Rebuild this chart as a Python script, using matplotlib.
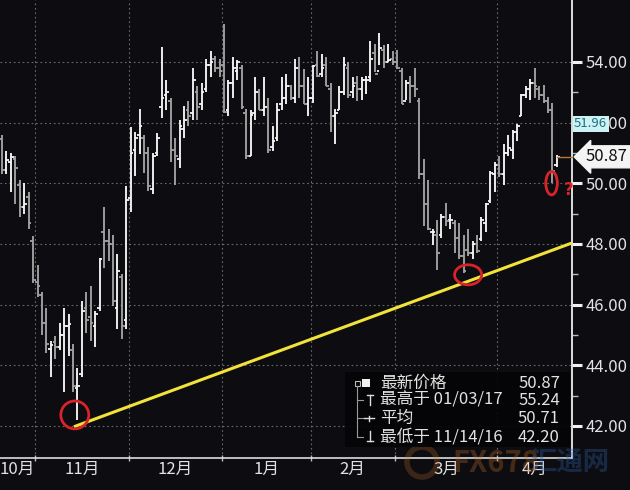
import matplotlib
matplotlib.use("Agg")
import matplotlib.pyplot as plt
from matplotlib.patches import Ellipse, Rectangle
import numpy as np

plt.rcParams['font.family'] = ['Noto Sans CJK SC', 'DejaVu Sans']

BG = "#0d0d11"
TXT = "#e2e2e2"

# daily OHLC bars, oldest first
months = ["10月", "11月", "12月", "1月", "2月", "3月", "4月"]
month_start = [0, 8, 29, 50, 70, 89, 112]  # index of the first bar of each month

highs = [51.60, 51.05, 51.00, 50.90, 50.10, 50.00, 49.70, 48.25, 47.30, 46.40,
         45.90, 44.80, 44.95, 45.40, 45.90, 45.70, 44.70, 43.90, 46.10, 46.40,
         46.60, 45.80, 47.55, 49.20, 48.50, 48.30, 47.65, 47.00, 49.90, 51.85,
         51.70, 52.45, 51.60, 51.20, 51.00, 51.65, 54.50, 53.40, 52.80, 51.50,
         52.10, 52.55, 52.70, 53.80, 53.20, 53.30, 54.10, 54.35, 54.20, 54.10,
         55.24, 53.40, 54.15, 54.05, 53.90, 52.45, 52.40, 53.50, 53.10, 53.50,
         52.80, 51.90, 52.65, 53.50, 53.60, 53.25, 54.10, 54.15, 53.75, 53.50,
         53.90, 54.35, 54.25, 54.15, 53.30, 52.45, 53.20, 54.15, 54.00, 53.50,
         53.55, 53.50, 53.55, 54.70, 54.60, 54.95, 54.55, 54.60, 54.35, 54.40,
         53.80, 53.40, 53.55, 53.80, 52.80, 50.80, 50.10, 48.50, 48.80, 49.00,
         49.35, 49.00, 48.80, 48.70, 48.30, 48.50, 48.10, 48.30, 48.90, 49.35,
         50.40, 50.70, 50.90, 51.30, 51.60, 51.75, 51.95, 52.95, 53.20, 53.45,
         53.80, 53.20, 53.25, 52.85, 52.65, 50.93]
lows = [50.30, 50.30, 49.70, 49.30, 48.90, 49.00, 48.50, 46.70, 46.25, 45.00,
        44.40, 43.60, 44.20, 44.50, 43.10, 44.30, 43.10, 42.20, 43.60, 45.05,
        44.80, 44.60, 45.80, 47.20, 47.45, 45.95, 45.20, 44.85, 45.20, 49.05,
        50.25, 50.95, 50.35, 49.75, 49.65, 50.90, 52.15, 52.40, 50.70, 49.95,
        50.50, 51.50, 51.90, 52.10, 52.10, 52.40, 53.00, 53.50, 53.65, 53.50,
        52.30, 52.20, 52.80, 53.40, 52.45, 50.80, 50.90, 52.10, 52.40, 52.20,
        51.00, 51.05, 51.40, 52.40, 52.60, 52.75, 52.65, 52.80, 52.60, 52.20,
        52.65, 53.50, 53.50, 53.20, 51.70, 51.30, 52.40, 52.90, 52.80, 52.80,
        52.70, 52.75, 52.95, 53.35, 53.65, 53.90, 53.80, 54.00, 53.90, 53.75,
        52.60, 52.75, 52.65, 52.85, 50.15, 48.60, 48.45, 47.95, 47.15, 48.20,
        48.60, 48.50, 47.70, 47.50, 47.03, 47.60, 47.50, 47.70, 48.10, 48.40,
        49.35, 49.70, 50.20, 49.95, 50.90, 50.80, 51.40, 52.20, 52.80, 52.75,
        52.80, 52.75, 52.65, 52.30, 50.00, 50.55]
opens = [51.45, 50.45, 50.70, 50.80, 49.95, 49.20, 49.55, 48.10, 46.75, 46.30,
         45.40, 44.55, 44.75, 44.60, 45.00, 45.30, 44.50, 43.25, 43.70, 45.90,
         45.60, 45.30, 45.90, 48.40, 48.10, 48.00, 45.90, 46.90, 45.50, 49.50,
         51.10, 51.60, 51.50, 51.00, 49.80, 51.00, 52.50, 52.90, 52.70, 51.10,
         50.80, 51.80, 52.40, 52.30, 53.00, 52.60, 53.10, 53.90, 54.10, 53.80,
         53.90, 52.40, 53.30, 53.70, 53.80, 52.30, 50.90, 52.30, 53.00, 52.40,
         52.50, 51.20, 51.50, 52.60, 52.80, 53.20, 52.80, 53.80, 53.20, 52.60,
         52.80, 53.90, 53.60, 53.90, 53.10, 52.20, 52.40, 53.00, 53.80, 53.00,
         53.30, 53.10, 53.40, 53.50, 54.30, 53.70, 54.40, 54.00, 54.10, 54.00,
         53.70, 52.70, 53.30, 53.20, 52.70, 50.30, 49.30, 48.40, 48.30, 48.30,
         48.90, 48.80, 48.70, 48.20, 47.60, 47.80, 47.70, 48.00, 48.15, 48.70,
         49.40, 50.30, 50.60, 50.30, 51.00, 51.10, 51.70, 52.20, 52.90, 53.10,
         53.30, 53.10, 52.90, 52.70, 52.40, 50.60]
closes = [50.45, 50.75, 50.85, 50.50, 49.20, 49.30, 48.70, 46.80, 46.60, 45.40,
          44.70, 44.65, 44.60, 45.00, 45.30, 45.35, 43.30, 43.30, 45.80, 45.50,
          45.40, 45.70, 47.50, 48.10, 48.00, 46.10, 47.10, 45.30, 49.45, 51.00,
          51.50, 51.90, 51.00, 49.90, 50.90, 51.50, 52.80, 53.00, 51.10, 50.90,
          51.90, 52.10, 52.20, 53.40, 52.50, 53.00, 53.90, 54.00, 53.80, 53.70,
          52.35, 53.30, 53.80, 54.00, 52.50, 50.90, 52.25, 53.00, 52.40, 52.50,
          51.10, 51.40, 52.40, 52.80, 53.20, 52.80, 53.80, 53.20, 52.60, 52.80,
          53.85, 53.55, 53.80, 53.20, 52.20, 52.30, 53.00, 53.90, 52.90, 53.20,
          53.10, 53.40, 53.40, 54.10, 53.60, 54.45, 54.00, 54.05, 54.00, 53.80,
          52.60, 53.30, 53.20, 53.10, 50.30, 49.30, 48.50, 48.40, 47.70, 48.90,
          48.75, 48.80, 48.20, 47.60, 47.10, 47.70, 48.00, 47.75, 48.80, 49.30,
          50.35, 50.60, 50.30, 51.00, 51.15, 51.70, 51.90, 52.90, 53.10, 53.30,
          53.20, 52.90, 52.70, 52.40, 50.40, 50.87]

y_ticks = [42, 44, 46, 48, 50, 52, 54]
last_price = 50.87
ma_value = 51.96

legend_names = ["最新价格", "最高于 01/03/17", "平均", "最低于 11/14/16"]
legend_values = ["50.87", "55.24", "50.71", "42.20"]

# hand drawn annotations (bar index, price)
trend_x = [16.2, 128.4]
trend_y = [41.97, 48.03]
circle_x = [16.4, 105.0, 123.8]
circle_y = [42.36, 46.98, 50.0]
circle_w = [6.3, 6.1, 2.6]
circle_h = [0.92, 0.66, 0.77]

fig = plt.figure(figsize=(6.3, 4.9), dpi=100, facecolor=BG)
ax = fig.add_axes([0, 32 / 490, 572 / 630, 458 / 490], facecolor=BG)

xmin, xmax = -0.45, 128.4
ax.set_xlim(xmin, xmax)
ax.set_ylim(40.94, 56.04)

x = np.arange(len(closes))
up = np.array(closes) >= np.array(opens)
cols = np.where(up, "#f4f4f4", "#a2a2a2")
ax.vlines(x, lows, highs, colors=cols, lw=1.35, zorder=3)
ax.hlines(opens, x - 0.6, x, colors=cols, lw=1.3, zorder=3)
ax.hlines(closes, x, x + 0.6, colors=cols, lw=1.3, zorder=3)

# grid
for v in y_ticks:
    ax.axhline(v, color="#6a6a6a", lw=0.8, ls=(0, (1.5, 2.5)), zorder=1)
bounds = [s - 0.5 for s in month_start[1:]]
for b in bounds:
    ax.axvline(b, color="#6a6a6a", lw=0.8, ls=(0, (1.5, 2.5)), zorder=1)

# x axis: month boundaries as ticks, names centred inside each month
edges = [xmin] + bounds + [xmax]
centers = [(edges[k] + edges[k + 1]) / 2 for k in range(len(months))]
ax.set_xticks(bounds)
ax.set_xticklabels([])
ax.set_xticks(centers, minor=True)
ax.set_xticklabels(months, minor=True)
ax.tick_params(axis="x", which="major", length=5, width=1, color="#bbbbbb", direction="inout")
ax.tick_params(axis="x", which="minor", length=0, labelsize=12, labelcolor=TXT, pad=2)

# y axis on the right
ax.yaxis.tick_right()
ax.set_yticks(y_ticks)
ax.set_yticklabels([f"{v:.2f}" for v in y_ticks])
ax.set_yticks([v + 1 for v in y_ticks[:-1]], minor=True)
ax.tick_params(axis="y", which="major", length=7, width=2.2, color="#f0f0f0",
               labelsize=12, labelcolor=TXT, pad=3)
ax.tick_params(axis="y", which="minor", length=4, width=1, color="#bbbbbb")

for s in ["left", "top"]:
    ax.spines[s].set_visible(False)
ax.spines["bottom"].set_color("#dddddd")
ax.spines["bottom"].set_linewidth(1.2)
ax.spines["right"].set_color("#dddddd")
ax.spines["right"].set_linewidth(1.4)

# trend line and circles
ax.plot(trend_x, trend_y, color="#f3e23a", lw=2.2, zorder=5, solid_capstyle="butt")
for cx, cy, w, h in zip(circle_x, circle_y, circle_w, circle_h):
    ax.add_patch(Ellipse((cx, cy), w, h, fill=False, ec="#d8232a", lw=2, zorder=6))
ax.text(127.6, 49.78, "?", color="#d8232a", fontsize=12, fontweight="bold",
        ha="center", va="center", zorder=6, family="DejaVu Sans")

# last price marker
ax.plot([x[-1], xmax], [last_price, last_price], color="#b8743a", lw=1, zorder=4, clip_on=False)
ax.annotate(f"{last_price:.2f}", xy=(1, last_price), xycoords=("axes fraction", "data"),
            xytext=(10, 0), textcoords="offset points", ha="left", va="center",
            fontsize=12, color="#111111",
            bbox=dict(boxstyle="larrow,pad=0.15", fc="#f4f4f4", ec="#f4f4f4"), zorder=10)
ax.annotate(f"{ma_value:.2f}", xy=(1, ma_value), xycoords=("axes fraction", "data"),
            xytext=(1.5, 0), textcoords="offset points", ha="left", va="center",
            fontsize=9.5, color="#1f6f86",
            bbox=dict(boxstyle="square,pad=0.1", fc="#cdf2f4", ec="none"), zorder=10)

# overlay in pixel units for the legend box and watermark
ov = fig.add_axes([0, 0, 1, 1])
ov.set_xlim(0, 630)
ov.set_ylim(490, 0)
ov.axis("off")
ov.patch.set_alpha(0)

# watermark
ov.add_patch(Ellipse((422, 462), 30, 30, fill=False, ec="#c8702a", lw=4, alpha=0.25))
ov.text(452, 463, "FX678", color="#c8702a", fontsize=21, fontweight="bold",
        ha="left", va="center", alpha=0.3)
ov.text(530, 463, "汇通网", color="#2e5fa8", fontsize=19, fontweight="bold",
        ha="left", va="center", alpha=0.35)

ov.add_patch(Rectangle((345, 372), 225, 75, fc="#050507", ec="none", alpha=0.92))
rows_y = [383, 400, 418, 437]
for name, val, ry in zip(legend_names, legend_values, rows_y):
    ov.text(380, ry, name, color=TXT, fontsize=12, ha="left", va="center")
    ov.text(560, ry, val, color=TXT, fontsize=12, ha="right", va="center")
# legend tree icons
ov.add_patch(Rectangle((354.5, 380.5), 5, 5, fill=False, ec="#bbbbbb", lw=0.8))
ov.add_patch(Rectangle((362, 379), 8, 8, fc="#f2f2f2", ec="none"))
ov.plot([357, 357], [386, 437], color="#999999", lw=0.8)
for ry in rows_y[1:]:
    ov.plot([357, 363], [ry, ry], color="#999999", lw=0.8)
ov.plot([367, 373], [395, 395], color="#dddddd", lw=1)
ov.plot([370, 370], [395, 405], color="#dddddd", lw=1)
ov.plot([364, 374], [418, 418], color="#dddddd", lw=1)
ov.plot([369, 369], [415.5, 420.5], color="#dddddd", lw=1)
ov.plot([370, 370], [431, 441], color="#dddddd", lw=1)
ov.plot([367, 373], [441, 441], color="#dddddd", lw=1)

fig.savefig("out.png", dpi=100, facecolor=BG)
